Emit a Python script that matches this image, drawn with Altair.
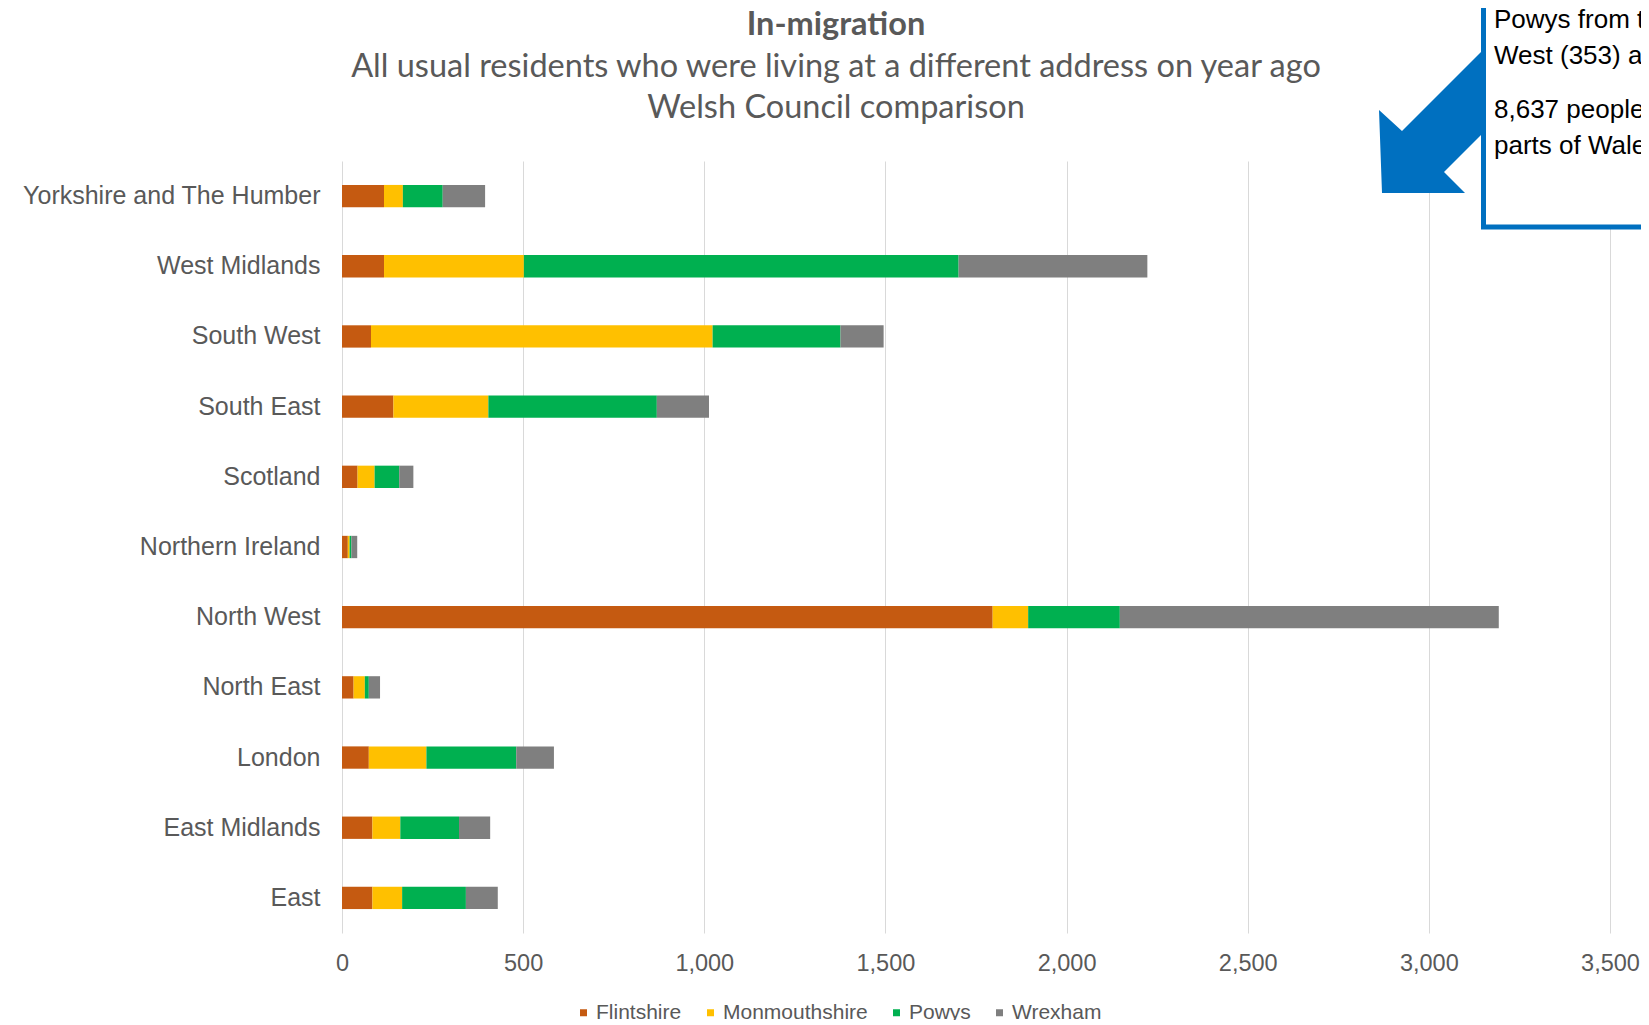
import altair as alt
import pandas as pd

regions = ["Yorkshire and The Humber", "West Midlands", "South West", "South East",
           "Scotland", "Northern Ireland", "North West", "North East", "London",
           "East Midlands", "East"]
councils = ["Flintshire", "Monmouthshire", "Powys", "Wrexham"]
council_colors = ["#C55A11", "#FFC000", "#00B050", "#7F7F7F"]

flintshire = [116, 116, 80, 142, 43, 16, 1796, 32, 74, 84, 84]
monmouthshire = [52, 386, 943, 262, 47, 5, 98, 31, 159, 77, 82]
powys = [110, 1200, 353, 465, 68, 5, 253, 11, 248, 162, 176]
wrexham = [117, 521, 119, 144, 39, 16, 1046, 31, 104, 86, 88]

x_ticks = [0, 500, 1000, 1500, 2000, 2500, 3000, 3500]

title_text = "In-migration"
subtitle_lines = ["All usual residents who were living at a different address on year ago",
                  "Welsh Council comparison"]
note_lines = ["Powys from the South", "West (353) and", "8,637 people moved", "parts of Wales"]

rows = []
series = [flintshire, monmouthshire, powys, wrexham]
for ci, (c, vals) in enumerate(zip(councils, series)):
    for r, v in zip(regions, vals):
        rows.append({"region": r, "council": c, "value": v, "order": ci})
df = pd.DataFrame(rows)
one = pd.DataFrame({"k": [0]})

GREY = "#595959"
LABEL_FONT = "Liberation Sans"

bars = alt.Chart(df).mark_bar().encode(
    x=alt.X("value:Q", stack="zero",
            scale=alt.Scale(domain=[0, 3500], nice=False),
            axis=alt.Axis(values=x_ticks, format=",d", grid=True, gridColor="#d9d9d9",
                          gridWidth=1, domain=False, ticks=False, labelFontSize=23.5,
                          labelColor=GREY, labelFont=LABEL_FONT, labelPadding=18,
                          labelFlush=False, title=None)),
    y=alt.Y("region:N", sort=regions,
            scale=alt.Scale(paddingInner=0.682, paddingOuter=0.341),
            axis=alt.Axis(domain=False, ticks=False, grid=False, labelFontSize=25,
                          labelPadding=22, labelColor=GREY, labelFont=LABEL_FONT,
                          title=None, labelLimit=400)),
    color=alt.Color("council:N", sort=councils,
                    scale=alt.Scale(domain=councils, range=council_colors),
                    legend=alt.Legend(orient="none", legendX=231, legendY=841,
                                      direction="horizontal", columns=4, title=None,
                                      symbolType="square", symbolSize=49,
                                      symbolStrokeWidth=0, labelFontSize=21,
                                      labelFont=LABEL_FONT, labelColor=GREY,
                                      columnPadding=18, labelOffset=2, padding=0)),
    order=alt.Order("order:Q"),
    tooltip=["region", "council", "value"],
)

arrow_path = "M -51 -40 L -28 -19 L 65 -112 L 65 -29 L 14 22 L 35 43 L -48 43 Z"
arrow = alt.Chart(one).mark_point(shape=arrow_path, size=4, filled=True,
                                   color="#0070C0", opacity=1, strokeWidth=0).encode(
    x=alt.value(1088), y=alt.value(-11))

box = alt.Chart(one).mark_rect(fill="white", stroke="#0070C0", strokeWidth=5).encode(
    x=alt.value(1141.5), x2=alt.value(1500), y=alt.value(-300), y2=alt.value(66))

note_y = [-133, -97, -43, -7]
notes = [alt.Chart(one).mark_text(align="left", baseline="alphabetic", font=LABEL_FONT,
                                  fontSize=26, color="black", text=t).encode(
    x=alt.value(1152), y=alt.value(yy)) for t, yy in zip(note_lines, note_y)]

title = alt.Chart(one).mark_text(align="center", baseline="middle", font="Lato",
                                 fontSize=32.5, fontWeight="bold", color=GREY,
                                 text=title_text).encode(
    x=alt.value(494), y=alt.value(-136))
subs = [alt.Chart(one).mark_text(align="center", baseline="middle", font="Lato",
                                 fontSize=32.5, color=GREY, text=t).encode(
    x=alt.value(494), y=alt.value(yy)) for t, yy in zip(subtitle_lines, [-94, -53])]

chart = alt.layer(bars, arrow, box, *notes, title, *subs).properties(
    width=1268, height=772,
    padding={"left": 334, "top": 153, "right": 31, "bottom": 87},
    autosize=alt.AutoSizeParams(type="none"),
).configure_view(stroke=None)

chart.save("out.html", embed_options={"renderer": "svg", "actions": False})
